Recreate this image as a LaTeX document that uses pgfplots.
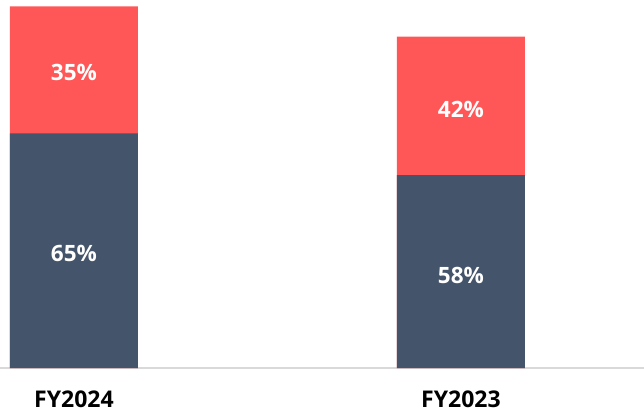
\documentclass[border=0pt]{standalone}
\usepackage{pgfplots}
\pgfplotsset{compat=1.18}
\usepackage{fontspec}
\setmainfont{Open Sans}
\definecolor{barred}{HTML}{FF5757}
\definecolor{bardark}{HTML}{44546A}
\definecolor{basegray}{HTML}{D9D9D9}

\begin{document}
\begin{tikzpicture}
  \path[use as bounding box] (0,-48pt) rectangle (644pt,368pt);
  \begin{axis}[
      scale only axis,
      width=644pt, height=368pt,
      xmin=-0.191, xmax=1.473,
      ymin=0, ymax=101.74,
      hide y axis,
      axis x line*=bottom,
      x axis line style={draw=basegray, line width=1.5pt, -},
      xtick={0,1},
      xticklabels={FY2024,FY2023},
      major tick length=0pt,
      xticklabel style={font=\fontsize{23}{25}\selectfont\bfseries, yshift=-22pt, inner sep=1pt},
      clip=false,
    ]
    % totals (red) drawn first, dark share drawn over the bottom part
    \addplot[ybar, bar width=128pt, bar shift=0pt, fill=barred, draw=none]
      coordinates {(0,100) (1,91.6)};
    \addplot[ybar, bar width=128pt, bar shift=0pt, fill=bardark, draw=none]
      coordinates {(0,64.9) (1,53.3)};
    % share labels
    \addplot[only marks, mark=none, point meta=explicit symbolic,
      nodes near coords,
      every node near coord/.style={anchor=center, text=white,
        font=\fontsize{22.5}{24}\selectfont\bfseries}]
      coordinates {(0,81.7)[35\%] (0,31.8)[65\%] (1,71.5)[42\%] (1,25.7)[58\%]};
  \end{axis}
\end{tikzpicture}
\end{document}
